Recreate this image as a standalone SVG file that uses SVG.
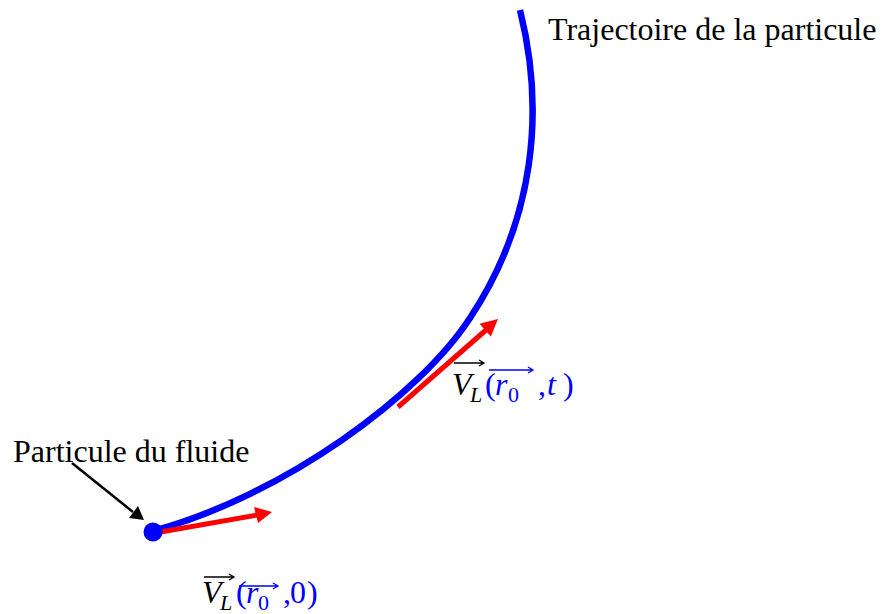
<svg xmlns="http://www.w3.org/2000/svg" width="883" height="614" viewBox="0 0 883 614">
<style>
.lbl{font-family:"Liberation Serif","Times New Roman",serif;font-size:32px;fill:#000}
.m{font-family:"Liberation Serif","Times New Roman",serif;font-style:italic;font-size:32px}
.up{font-style:normal}
.sub{font-size:22px}
.blk{fill:#000}
.blu{fill:#0000FF}
.vec{stroke:#000;stroke-width:1.3;fill:none}
.vecb{stroke:#0000FF;stroke-width:1.3;fill:none}
</style>
<rect width="883" height="614" fill="#fff"/>
<g id="connectors">
  <path id="trajectory" d="M520 10 C545 110 535 220 470 318 C420 395 285 495 153 531" fill="none" stroke="#0000FF" stroke-width="6.5"/>
  <g id="arrow-v0">
    <line x1="155" y1="533" x2="257" y2="515" stroke="#FF0000" stroke-width="5"/>
    <polygon points="272,512 254,507 258,523" fill="#FF0000"/>
  </g>
  <g id="arrow-vt">
    <line x1="398" y1="407" x2="486" y2="330" stroke="#FF0000" stroke-width="5"/>
    <polygon points="498,319 479.6,323.8 490.8,336.6" fill="#FF0000"/>
  </g>
  <g id="pointer">
    <line x1="72" y1="463" x2="133" y2="512" stroke="#000" stroke-width="2.5"/>
    <polygon points="144,520 129,518 138,506" fill="#000"/>
  </g>
</g>
<g id="particle">
  <circle cx="153" cy="532" r="9.5" fill="#0000FF"/>
  <text class="lbl" x="13" y="462">Particule du fluide</text>
</g>
<g id="trajectory-label">
  <text class="lbl" x="548" y="40">Trajectoire de la particule</text>
</g>
<g id="label-vt">
  <text class="m"><tspan class="blk" x="452" y="395">V</tspan><tspan class="blk sub" x="470" y="402">L</tspan><tspan class="blu up" x="485" y="395">(</tspan><tspan class="blu" x="495" y="395">r</tspan><tspan class="blu up sub" x="508" y="402">0</tspan><tspan class="blu up" x="538" y="395">,</tspan><tspan class="blu" x="547" y="395">t</tspan><tspan class="blu up" x="563" y="395">)</tspan></text>
  <path class="vec" d="M454 363 H484 M479 360 L484 363 L479 366"/>
  <path class="vecb" d="M489 370 H533 M528 367 L533 370 L528 373"/>
</g>
<g id="label-v0">
  <text class="m"><tspan class="blk" x="202" y="603">V</tspan><tspan class="blk sub" x="220" y="610">L</tspan><tspan class="blu up" x="236" y="603">(</tspan><tspan class="blu" x="246" y="603">r</tspan><tspan class="blu up sub" x="258" y="610">0</tspan><tspan class="blu up" x="283" y="603">,</tspan><tspan class="blu up" x="290" y="603">0</tspan><tspan class="blu up" x="307" y="603">)</tspan></text>
  <path class="vec" d="M204 577 H234 M229 574 L234 577 L229 580"/>
  <path class="vecb" d="M239 586 H278 M273 583 L278 586 L273 589"/>
</g>
</svg>
